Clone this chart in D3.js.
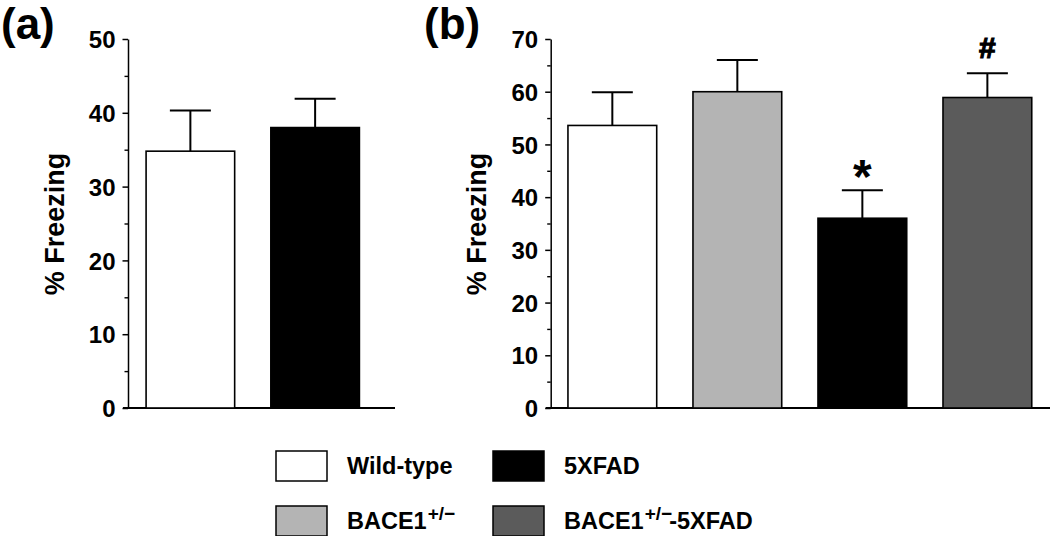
<!DOCTYPE html>
<html>
<head>
<meta charset="utf-8">
<script src="https://cdn.jsdelivr.net/npm/d3@7"></script>
<style>
    body { margin: 0; background: #fff; }
    svg text { font-family: "Liberation Sans", Arial, sans-serif; font-weight: bold; }
</style>
</head>
<body>
<svg id="chart" width="1050" height="536"></svg>
<script>
// groups and colours shared by both panels
var groups = ["Wild-type", "BACE1+/\u2212", "5XFAD", "BACE1+/\u2212-5XFAD"];
var groupFills = ["#ffffff", "#b4b4b4", "#000000", "#5b5b5b"];

// panel (a)
var groupsA = ["Wild-type", "5XFAD"];
var meansA = [34.8, 38.0];
var errA = [5.5, 3.9];
var ticksA = [0, 10, 20, 30, 40, 50];

// panel (b)
var groupsB = ["Wild-type", "BACE1+/\u2212", "5XFAD", "BACE1+/\u2212-5XFAD"];
var meansB = [53.6, 60.0, 36.0, 58.9];
var errB = [6.3, 6.0, 5.3, 4.6];
var marksB = ["", "", "*", "#"];
var ticksB = [0, 10, 20, 30, 40, 50, 60, 70];

var svg = d3.select("#chart");
var yTop = 39, yBottom = 408;

function fillOf(g) {
    return groupFills[groups.indexOf(g)];
}

function drawPanel(cfg) {
    var g = svg.append("g");
    var maxV = d3.max(cfg.ticks);

    var y = d3.scaleLinear().domain([0, maxV]).range([yBottom, yTop]);
    var x = d3.scaleBand()
        .domain(cfg.groups)
        .range([cfg.x0, cfg.x1])
        .paddingInner(0.29)
        .paddingOuter(cfg.outer);

    // minor ticks every 5
    var minor = d3.range(5, maxV, 10);
    g.append("g")
        .attr("transform", "translate(" + cfg.x0 + ",0)")
        .call(d3.axisLeft(y).tickValues(minor).tickSize(3.5).tickFormat(""))
        .call(function (s) { s.select(".domain").remove(); })
        .selectAll("line").attr("stroke-width", 1.4);

    var ax = g.append("g")
        .attr("transform", "translate(" + cfg.x0 + ",0)")
        .call(d3.axisLeft(y).tickValues(cfg.ticks).tickSize(5.5).tickSizeOuter(0).tickPadding(7).tickFormat(d3.format("d")));
    ax.select(".domain").attr("stroke-width", 1.5);
    ax.selectAll("line").attr("stroke-width", 1.5);
    ax.selectAll("text")
        .attr("font-size", 24)
        .attr("fill", "#000")
        .attr("dy", "0.36em");

    // baseline
    g.append("line")
        .attr("x1", cfg.x0 - 5)
        .attr("x2", cfg.axisEnd)
        .attr("y1", y(0))
        .attr("y2", y(0))
        .attr("stroke", "#000")
        .attr("stroke-width", 2);

    var rows = cfg.groups.map(function (d, i) {
        return { g: d, v: cfg.means[i], e: cfg.err[i], m: cfg.marks ? cfg.marks[i] : "" };
    });

    // error bars (upper only)
    var eb = g.selectAll(".err").data(rows).enter().append("g");
    eb.append("line")
        .attr("x1", function (d) { return x(d.g) + x.bandwidth() / 2; })
        .attr("x2", function (d) { return x(d.g) + x.bandwidth() / 2; })
        .attr("y1", function (d) { return y(d.v); })
        .attr("y2", function (d) { return y(d.v + d.e); })
        .attr("stroke", "#000").attr("stroke-width", 2);
    eb.append("line")
        .attr("x1", function (d) { return x(d.g) + x.bandwidth() / 2 - 20.5; })
        .attr("x2", function (d) { return x(d.g) + x.bandwidth() / 2 + 20.5; })
        .attr("y1", function (d) { return y(d.v + d.e); })
        .attr("y2", function (d) { return y(d.v + d.e); })
        .attr("stroke", "#000").attr("stroke-width", 2);

    g.selectAll(".bar").data(rows).enter().append("rect")
        .attr("x", function (d) { return x(d.g); })
        .attr("y", function (d) { return y(d.v); })
        .attr("width", x.bandwidth())
        .attr("height", function (d) { return y(0) - y(d.v); })
        .attr("fill", function (d) { return fillOf(d.g); })
        .attr("stroke", "#000")
        .attr("stroke-width", 1.6);

    // significance marks
    g.selectAll(".mark").data(rows.filter(function (d) { return d.m; })).enter().append("text")
        .attr("x", function (d) { return x(d.g) + x.bandwidth() / 2; })
        .attr("y", function (d) { return d.m == "*" ? y(d.v + d.e) + 3 : y(d.v + d.e) - 15; })
        .attr("text-anchor", "middle")
        .attr("font-size", function (d) { return d.m == "*" ? 48 : 30; })
        .attr("stroke", function (d) { return d.m == "#" ? "#000" : "none"; })
        .attr("stroke-width", 1.2)
        .text(function (d) { return d.m; });

    // y label
    g.append("text")
        .attr("transform", "translate(" + cfg.labelX + "," + 224 + ") rotate(-90)")
        .attr("text-anchor", "middle")
        .attr("font-size", 27)
        .text("% Freezing");

    // panel letter
    g.append("text")
        .attr("x", cfg.letterX)
        .attr("y", 39)
        .attr("font-size", 44)
        .text(cfg.letter);
}

drawPanel({ groups: groupsA, means: meansA, err: errA, ticks: ticksA,
    x0: 128, x1: 377.5, outer: 0.145, axisEnd: 395, labelX: 64, letter: "(a)", letterX: 1 });
drawPanel({ groups: groupsB, means: meansB, err: errB, marks: marksB, ticks: ticksB,
    x0: 550.7, x1: 1049, outer: 0.138, axisEnd: 1050, labelX: 486, letter: "(b)", letterX: 424 });

// legend
var legend = svg.append("g");
var item = legend.selectAll(".leg").data(groups).enter().append("g")
    .attr("transform", function (d, i) {
        var col = Math.floor(i / 2), row = i % 2;
        return "translate(" + (276 + col * 217) + "," + (451 + row * 55) + ")";
    });
item.append("rect")
    .attr("width", 51).attr("height", 30)
    .attr("fill", function (d, i) { return groupFills[i]; })
    .attr("stroke", "#000").attr("stroke-width", 1.5);
var lt = item.append("text")
    .attr("x", 71)
    .attr("y", 23)
    .attr("font-size", 23.5);
lt.each(function (d) {
    var t = d3.select(this);
    var parts = d.split("+/\u2212");
    t.append("tspan").text(parts[0]);
    if (parts.length > 1) {
        t.append("tspan").attr("font-size", 19).attr("dy", -9).attr("dx", 1).text("+/\u2212");
        if (parts[1]) t.append("tspan").attr("dy", 9).attr("dx", -3).text(parts[1]);
    }
});
</script>
</body>
</html>
